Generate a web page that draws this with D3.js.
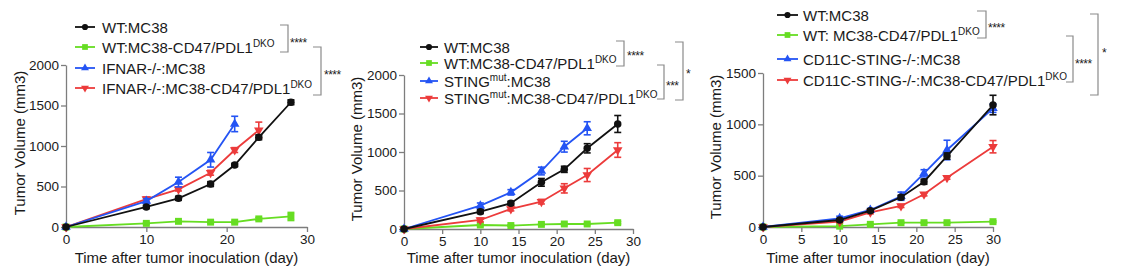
<!DOCTYPE html>
<html><head><meta charset="utf-8">
<script src="https://cdn.jsdelivr.net/npm/d3@7"></script>
<style>
body{margin:0;background:#fff}
text{font-family:"Liberation Sans",Arial,Helvetica,sans-serif;fill:#1a1a1a}
</style>
</head><body>
<svg id="c" width="1121" height="280"></svg>
<script>
// ---------------- DATA ----------------
// Panel 1 (IFNAR)
const p1Days = [0, 10, 14, 18, 21, 24, 28];
const p1WT = [0, 247, 354, 530, 765, 1107, 1540];
const p1WTErr = [0, 20, 25, 30, 20, 30, 30];
const p1WTDko = [0, 45, 70, 60, 60, 100, 130];
const p1WTDkoErr = [0, 10, 10, 10, 10, 15, 50];
const p1KODays = [0, 10, 14, 18, 21];
const p1KO = [0, 320, 555, 830, 1272];
const p1KOErr = [0, 30, 60, 90, 95];
const p1KODkoDays = [0, 10, 14, 18, 21, 24];
const p1KODko = [0, 345, 465, 670, 950, 1195];
const p1KODkoErr = [0, 25, 20, 30, 30, 100];
const p1Labels = ["WT:MC38", "WT:MC38-CD47/PDL1|DKO", "IFNAR-/-:MC38", "IFNAR-/-:MC38-CD47/PDL1|DKO"];

// Panel 2 (STING mut)
const p2Days = [0, 10, 14, 18, 21, 24, 28];
const p2WT = [0, 225, 334, 606, 775, 1048, 1364];
const p2WTErr = [0, 25, 25, 50, 40, 60, 110];
const p2WTDko = [0, 52, 45, 60, 65, 65, 82];
const p2WTDkoErr = [0, 8, 8, 8, 8, 8, 15];
const p2KODays = [0, 10, 14, 18, 21, 24];
const p2KO = [0, 303, 476, 753, 1069, 1308];
const p2KOErr = [0, 35, 35, 50, 70, 85];
const p2KODko = [0, 117, 260, 355, 528, 701, 1026];
const p2KODkoErr = [0, 25, 25, 30, 60, 85, 95];
const p2Labels = ["WT:MC38", "WT:MC38-CD47/PDL1|DKO", "STING^mut^:MC38", "STING^mut^:MC38-CD47/PDL1|DKO"];

// Panel 3 (CD11C-STING-/-)
const p3Days = [0, 10, 14, 18, 21, 24, 30];
const p3WT = [0, 68, 159, 289, 441, 691, 1188];
const p3WTErr = [0, 15, 15, 20, 25, 30, 95];
const p3WTDko = [0, 8, 26, 42, 42, 42, 52];
const p3WTDkoErr = [0, 5, 5, 5, 5, 5, 8];
const p3KO = [0, 85, 166, 300, 523, 750, 1156];
const p3KOErr = [0, 20, 15, 40, 35, 95, 40];
const p3KODko = [0, 52, 143, 205, 318, 480, 782];
const p3KODkoErr = [0, 10, 15, 15, 15, 15, 60];
const p3Labels = ["WT:MC38", "WT: MC38-CD47/PDL1|DKO", "CD11C-STING-/-:MC38", "CD11C-STING-/-:MC38-CD47/PDL1|DKO"];

const xTicks1 = [0, 10, 20, 30];
const xTicks23 = [0, 5, 10, 15, 20, 25, 30];
const yTicks12 = [0, 500, 1000, 1500, 2000];
const yTicks3 = [0, 500, 1000, 1500];
const xTitle = "Time after tumor inoculation (day)";
const yTitle = "Tumor Volume (mm3)";
const sigLabels1 = ["****", "****"];
const sigLabels2 = ["****", "***", "*"];
const sigLabels3 = ["****", "****", "*"];

// ---------------- STYLE ----------------
const COL = { black: "#111111", green: "#66dd22", blue: "#2454f4", red: "#ec3b3b" };
const SHAPES = ["circle", "square", "up", "down"];
const SER_COLS = [COL.black, COL.green, COL.blue, COL.red];

const panels = [
  {
    xr: [66, 307], yr: [227, 65], ymax: 2000, xticks: xTicks1, yticks: yTicks12,
    series: [
      { d: p1Days, v: p1WTDko, e: p1WTDkoErr, k: 1 },
      { d: p1KODkoDays, v: p1KODko, e: p1KODkoErr, k: 3 },
      { d: p1KODays, v: p1KO, e: p1KOErr, k: 2 },
      { d: p1Days, v: p1WT, e: p1WTErr, k: 0 }
    ],
    labels: p1Labels, legY: [27, 47, 68, 88], legX: [75, 95, 102],
    ytx: 20, brackets: [
      { x: 288, y1: 25, y2: 52, w: 8, tx: 290, ty: 40, s: sigLabels1[0] },
      { x: 321, y1: 47, y2: 95, w: 8, tx: 324, ty: 72, s: sigLabels1[1] }
    ]
  },
  {
    xr: [404, 633], yr: [229, 75], ymax: 2000, xticks: xTicks23, yticks: yTicks12,
    series: [
      { d: p2Days, v: p2WTDko, e: p2WTDkoErr, k: 1 },
      { d: p2Days, v: p2KODko, e: p2KODkoErr, k: 3 },
      { d: p2KODays, v: p2KO, e: p2KOErr, k: 2 },
      { d: p2Days, v: p2WT, e: p2WTErr, k: 0 }
    ],
    labels: p2Labels, legY: [47, 63, 81, 98], legX: [420, 438, 444],
    ytx: 357, brackets: [
      { x: 624, y1: 41, y2: 66, w: 8, tx: 627, ty: 53, s: sigLabels2[0] },
      { x: 664, y1: 65, y2: 99, w: 7, tx: 666, ty: 83, s: sigLabels2[1] },
      { x: 683, y1: 42, y2: 100, w: 8, tx: 686, ty: 71, s: sigLabels2[2] }
    ]
  },
  {
    xr: [763, 993], yr: [227, 73], ymax: 1500, xticks: xTicks23, yticks: yTicks3,
    series: [
      { d: p3Days, v: p3WTDko, e: p3WTDkoErr, k: 1 },
      { d: p3Days, v: p3KODko, e: p3KODkoErr, k: 3 },
      { d: p3Days, v: p3KO, e: p3KOErr, k: 2 },
      { d: p3Days, v: p3WT, e: p3WTErr, k: 0 }
    ],
    labels: p3Labels, legY: [15, 35, 59, 80], legX: [777, 798, 803],
    ytx: 716, brackets: [
      { x: 986, y1: 11, y2: 38, w: 9, tx: 988, ty: 25, s: sigLabels3[0] },
      { x: 1073, y1: 36, y2: 82, w: 7, tx: 1075, ty: 61, s: sigLabels3[1] },
      { x: 1098, y1: 14, y2: 95, w: 8, tx: 1102, ty: 50, s: sigLabels3[2] }
    ]
  }
];

const svg = d3.select("#c");

function marker(sel, k, size, color) {
  let t;
  if (k === 0) t = d3.symbol(d3.symbolCircle, size);
  else if (k === 1) t = d3.symbol(d3.symbolSquare, size * 1.1);
  else t = d3.symbol(d3.symbolTriangle, size * 0.9);
  sel.append("path").attr("d", t).attr("fill", color)
    .attr("transform", function () {
      const prev = d3.select(this).attr("transform") || "";
      return k === 3 ? "rotate(180)" : null;
    });
}

function addLabel(textSel, label) {
  // "|" introduces a trailing superscript; "^x^" is an inline superscript
  const parts = [];
  let main = label, tail = null;
  if (label.includes("|")) { [main, tail] = label.split("|"); }
  const re = /\^([^^]+)\^/g;
  let last = 0, m;
  while ((m = re.exec(main)) !== null) {
    if (m.index > last) parts.push({ t: main.slice(last, m.index), sup: false });
    parts.push({ t: m[1], sup: true });
    last = m.index + m[0].length;
  }
  if (last < main.length) parts.push({ t: main.slice(last), sup: false });
  if (tail) parts.push({ t: tail, sup: true });
  parts.forEach(p => {
    const ts = textSel.append("tspan").text(p.t);
    if (p.sup) ts.attr("font-size", 10).attr("dy", -6);
    else ts.attr("dy", 0);
  });
  // reset dy after superscripts
  textSel.selectAll("tspan").each(function (d, i, nodes) {
    if (i > 0 && parts[i - 1].sup && !parts[i].sup) d3.select(this).attr("dy", 6);
  });
}

panels.forEach(p => {
  const x = d3.scaleLinear().domain([0, 30]).range(p.xr);
  const y = d3.scaleLinear().domain([0, p.ymax]).range(p.yr);
  const g = svg.append("g");

  const xa = g.append("g").attr("transform", `translate(0,${p.yr[0]})`)
    .call(d3.axisBottom(x).tickValues(p.xticks).tickSize(5).tickSizeOuter(0).tickPadding(2).tickFormat(d3.format("d")));
  const ya = g.append("g").attr("transform", `translate(${p.xr[0]},0)`)
    .call(d3.axisLeft(y).tickValues(p.yticks).tickSize(5).tickSizeOuter(0).tickPadding(2).tickFormat(d3.format("d")));
  [xa, ya].forEach(a => {
    a.selectAll("path,line").attr("stroke", "#7d7d7d").attr("stroke-width", 1.3);
    a.selectAll("text").attr("font-size", 13.5).attr("fill", "#1a1a1a")
      .attr("font-family", '"Liberation Sans",Arial,sans-serif');
  });

  g.append("text").attr("x", (p.xr[0] + p.xr[1]) / 2).attr("y", 263)
    .attr("text-anchor", "middle").attr("font-size", 15).text(xTitle);
  g.append("text").attr("transform", `translate(${p.ytx + 5},${(p.yr[0] + p.yr[1]) / 2 - 3}) rotate(-90)`)
    .attr("text-anchor", "middle").attr("font-size", 15).text(yTitle);

  p.series.forEach(s => {
    const col = SER_COLS[s.k];
    const pts = s.d.map((d, i) => ({ d, v: s.v[i], e: s.e[i] }));
    const sg = g.append("g");
    sg.append("path").datum(pts).attr("fill", "none").attr("stroke", col).attr("stroke-width", 1.8)
      .attr("d", d3.line().x(q => x(q.d)).y(q => y(q.v)));
    const eb = sg.selectAll(".eb").data(pts.filter(q => q.e > 0)).enter().append("g")
      .attr("stroke", col).attr("stroke-width", 1.6);
    eb.append("line").attr("x1", q => x(q.d)).attr("x2", q => x(q.d))
      .attr("y1", q => y(q.v + q.e)).attr("y2", q => y(Math.max(0, q.v - q.e)));
    eb.append("line").attr("x1", q => x(q.d) - 3.5).attr("x2", q => x(q.d) + 3.5)
      .attr("y1", q => y(q.v + q.e)).attr("y2", q => y(q.v + q.e));
    eb.append("line").attr("x1", q => x(q.d) - 3.5).attr("x2", q => x(q.d) + 3.5)
      .attr("y1", q => y(Math.max(0, q.v - q.e))).attr("y2", q => y(Math.max(0, q.v - q.e)));
    sg.selectAll(".mk").data(pts).enter().append("g")
      .attr("transform", q => `translate(${x(q.d)},${y(q.v)})`)
      .each(function () { marker(d3.select(this), s.k, 44, col); });
  });

  // legend
  p.labels.forEach((lab, i) => {
    const col = SER_COLS[i];
    const ly = p.legY[i];
    g.append("line").attr("x1", p.legX[0]).attr("x2", p.legX[1]).attr("y1", ly).attr("y2", ly)
      .attr("stroke", col).attr("stroke-width", 1.8);
    const mg = g.append("g").attr("transform", `translate(${(p.legX[0] + p.legX[1]) / 2},${ly})`);
    marker(mg, i, 30, col);
    const t = g.append("text").attr("x", p.legX[2]).attr("y", ly + 5.5).attr("font-size", 15);
    addLabel(t, lab);
  });

  // significance brackets
  p.brackets.forEach(b => {
    g.append("path").attr("fill", "none").attr("stroke", "#8a8a8a").attr("stroke-width", 1.2)
      .attr("d", `M${b.x - b.w},${b.y1}H${b.x}V${b.y2}H${b.x - b.w}`);
    g.append("text").attr("x", b.tx).attr("y", b.ty + 7).attr("font-size", 12).attr("fill", "#333")
      .attr("letter-spacing", -0.5).text(b.s);
  });
});
</script>
</body></html>
